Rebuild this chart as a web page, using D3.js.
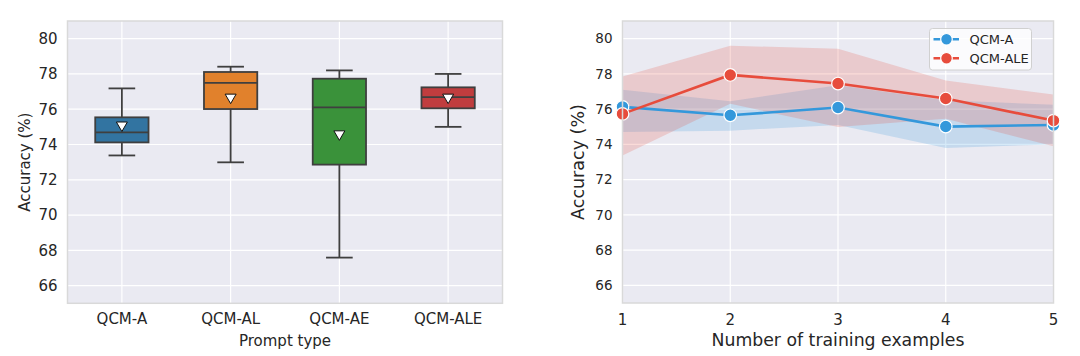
<!DOCTYPE html>
<html><head><meta charset="utf-8">
<script src="https://cdn.jsdelivr.net/npm/d3@7"></script>
<style>body{margin:0;background:#fff}svg{display:block}text{font-family:"DejaVu Sans",sans-serif;fill:#262626}</style>
</head><body>
<svg id="c" width="1080" height="356"></svg>
<script>
// ---- Left: box plot data ----
const promptTypes = ["QCM-A", "QCM-AL", "QCM-AE", "QCM-ALE"];
const boxColors = ["#3274a1", "#e1812c", "#3a923a", "#c03d3e"];
const whiskerLow = [73.38, 72.99, 67.59, 75.0];
const q1 = [74.12, 76.01, 72.86, 76.05];
const median = [74.69, 77.49, 76.1, 76.69];
const q3 = [75.54, 78.11, 77.73, 77.24];
const whiskerHigh = [77.18, 78.41, 78.2, 78.0];
const means = [75.02, 76.6, 74.52, 76.6];

// ---- Right: line plot data ----
const nExamples = [1, 2, 3, 4, 5];
const seriesNames = ["QCM-A", "QCM-ALE"];
const seriesColors = ["#3498db", "#e74c3c"];
const qcmA = [76.13, 75.65, 76.09, 75.01, 75.1];
const qcmALower = [74.7, 74.78, 75.1, 73.8, 74.0];
const qcmAUpper = [77.1, 76.45, 77.35, 76.5, 76.25];
const qcmALE = [75.73, 77.94, 77.45, 76.6, 75.35];
const qcmALELower = [73.37, 76.3, 74.98, 75.45, 73.9];
const qcmALEUpper = [77.85, 79.6, 79.42, 77.62, 76.83];

const yTicks = [66, 68, 70, 72, 74, 76, 78, 80];
const yDomain = [65, 81];

const svg = d3.select("#c");
const bg = "#eaeaf2";

function frame(g, w, h) {
  g.append("rect").attr("width", w).attr("height", h).attr("fill", bg);
}
function border(g, w, h) {
  g.append("rect").attr("width", w).attr("height", h).attr("fill", "none")
    .attr("stroke", "#d9d9d9").attr("stroke-width", 1.5);
}

// ===== Left panel =====
{
  const L = {x: 67.5, y: 21, w: 435, h: 282.3};
  const g = svg.append("g").attr("transform", `translate(${L.x},${L.y})`);
  const x = d3.scaleBand().domain(promptTypes).range([0, L.w]).padding(0);
  const y = d3.scaleLinear().domain(yDomain).range([L.h, 0]);
  frame(g, L.w, L.h);
  // grid
  g.append("g").selectAll("line").data(yTicks).join("line")
    .attr("x1", 0).attr("x2", L.w).attr("y1", d => y(d)).attr("y2", d => y(d))
    .attr("stroke", "#fff").attr("stroke-width", 1.2);
  g.append("g").selectAll("line").data(promptTypes).join("line")
    .attr("y1", 0).attr("y2", L.h).attr("x1", d => x(d) + x.bandwidth()/2).attr("x2", d => x(d) + x.bandwidth()/2)
    .attr("stroke", "#fff").attr("stroke-width", 1.2);
  const bw = x.bandwidth() * 0.49;
  const cw = bw / 2;
  const edge = "#3f3f3f";
  promptTypes.forEach((p, i) => {
    const cx = x(p) + x.bandwidth()/2;
    const bg2 = g.append("g");
    bg2.append("line").attr("x1", cx).attr("x2", cx).attr("y1", y(whiskerHigh[i])).attr("y2", y(q3[i]))
      .attr("stroke", edge).attr("stroke-width", 1.8);
    bg2.append("line").attr("x1", cx).attr("x2", cx).attr("y1", y(q1[i])).attr("y2", y(whiskerLow[i]))
      .attr("stroke", edge).attr("stroke-width", 1.8);
    [whiskerHigh[i], whiskerLow[i]].forEach(v => bg2.append("line")
      .attr("x1", cx - cw/2).attr("x2", cx + cw/2).attr("y1", y(v)).attr("y2", y(v))
      .attr("stroke", edge).attr("stroke-width", 1.8));
    bg2.append("rect").attr("x", cx - bw/2).attr("width", bw)
      .attr("y", y(q3[i])).attr("height", y(q1[i]) - y(q3[i]))
      .attr("fill", boxColors[i]).attr("stroke", edge).attr("stroke-width", 1.8);
    bg2.append("line").attr("x1", cx - bw/2).attr("x2", cx + bw/2).attr("y1", y(median[i])).attr("y2", y(median[i]))
      .attr("stroke", edge).attr("stroke-width", 1.8);
    const my = y(means[i]);
    bg2.append("path").attr("d", `M${cx-5.5},${my-4.5}L${cx+5.5},${my-4.5}L${cx},${my+5}Z`)
      .attr("fill", "#fff").attr("stroke", "#111").attr("stroke-width", 1);
  });
  border(g, L.w, L.h);
  // axes text
  g.append("g").selectAll("text").data(yTicks).join("text")
    .attr("x", -10).attr("y", d => y(d)).attr("dy", "0.36em").attr("text-anchor", "end")
    .attr("font-size", 15).text(d => d);
  g.append("g").selectAll("text").data(promptTypes).join("text")
    .attr("x", d => x(d) + x.bandwidth()/2).attr("y", L.h + 20.5).attr("text-anchor", "middle")
    .attr("font-size", 15).text(d => d);
  g.append("text").attr("x", L.w/2).attr("y", L.h + 42.5).attr("text-anchor", "middle")
    .attr("font-size", 15).text("Prompt type");
  g.append("text").attr("transform", `translate(${-37.5},${L.h/2}) rotate(-90)`)
    .attr("text-anchor", "middle").attr("font-size", 15).text("Accuracy (%)");
}

// ===== Right panel =====
{
  const R = {x: 622.5, y: 21, w: 431, h: 282};
  const g = svg.append("g").attr("transform", `translate(${R.x},${R.y})`);
  const x = d3.scaleLinear().domain([1, 5]).range([0, R.w]);
  const y = d3.scaleLinear().domain(yDomain).range([R.h, 0]);
  frame(g, R.w, R.h);
  g.append("g").selectAll("line").data(yTicks).join("line")
    .attr("x1", 0).attr("x2", R.w).attr("y1", d => y(d)).attr("y2", d => y(d))
    .attr("stroke", "#fff").attr("stroke-width", 1.2);
  g.append("g").selectAll("line").data(nExamples).join("line")
    .attr("y1", 0).attr("y2", R.h).attr("x1", d => x(d)).attr("x2", d => x(d))
    .attr("stroke", "#fff").attr("stroke-width", 1.2);

  const series = [
    {name: seriesNames[0], color: seriesColors[0], mean: qcmA, lo: qcmALower, hi: qcmAUpper},
    {name: seriesNames[1], color: seriesColors[1], mean: qcmALE, lo: qcmALELower, hi: qcmALEUpper}
  ];
  const area = d3.area().x((d, i) => x(nExamples[i])).y0(d => y(d[0])).y1(d => y(d[1]));
  const line = d3.line().x((d, i) => x(nExamples[i])).y(d => y(d));
  series.forEach(s => {
    g.append("path").datum(s.lo.map((v, i) => [v, s.hi[i]])).attr("d", area)
      .attr("fill", s.color).attr("opacity", 0.2);
  });
  series.forEach(s => {
    g.append("path").datum(s.mean).attr("d", line).attr("fill", "none")
      .attr("stroke", s.color).attr("stroke-width", 2.6);
    g.append("g").selectAll("circle").data(s.mean).join("circle")
      .attr("cx", (d, i) => x(nExamples[i])).attr("cy", d => y(d)).attr("r", 6.3)
      .attr("fill", s.color).attr("stroke", "#fff").attr("stroke-width", 1.2);
  });
  border(g, R.w, R.h);

  // legend
  const lg = g.append("g").attr("transform", `translate(${R.w - 124},7.5)`);
  lg.append("rect").attr("width", 102).attr("height", 41.5).attr("rx", 3)
    .attr("fill", "#fff").attr("fill-opacity", 0.8).attr("stroke", "#d0d0d0").attr("stroke-width", 1);
  series.forEach((s, i) => {
    const yy = 10.8 + i * 19;
    lg.append("line").attr("x1", 4).attr("x2", 30).attr("y1", yy).attr("y2", yy)
      .attr("stroke", s.color).attr("stroke-width", 2.6).attr("stroke-dasharray", "7,1.5,8.5,1.5,7");
    lg.append("circle").attr("cx", 17).attr("cy", yy).attr("r", 5.8)
      .attr("fill", s.color).attr("stroke", "#fff").attr("stroke-width", 1.2);
    lg.append("text").attr("x", 40).attr("y", yy).attr("dy", "0.36em")
      .attr("font-size", 13).text(s.name);
  });

  g.append("g").selectAll("text").data(yTicks).join("text")
    .attr("x", -10).attr("y", d => y(d)).attr("dy", "0.36em").attr("text-anchor", "end")
    .attr("font-size", 13.5).text(d => d);
  g.append("g").selectAll("text").data(nExamples).join("text")
    .attr("x", d => x(d)).attr("y", R.h + 22).attr("text-anchor", "middle")
    .attr("font-size", 15).text(d => d);
  g.append("text").attr("x", R.w/2).attr("y", R.h + 43).attr("text-anchor", "middle")
    .attr("font-size", 17.3).text("Number of training examples");
  g.append("text").attr("transform", `translate(${-39},${R.h/2}) rotate(-90)`)
    .attr("text-anchor", "middle").attr("font-size", 17.5).text("Accuracy (%)");
}
</script>
</body></html>
